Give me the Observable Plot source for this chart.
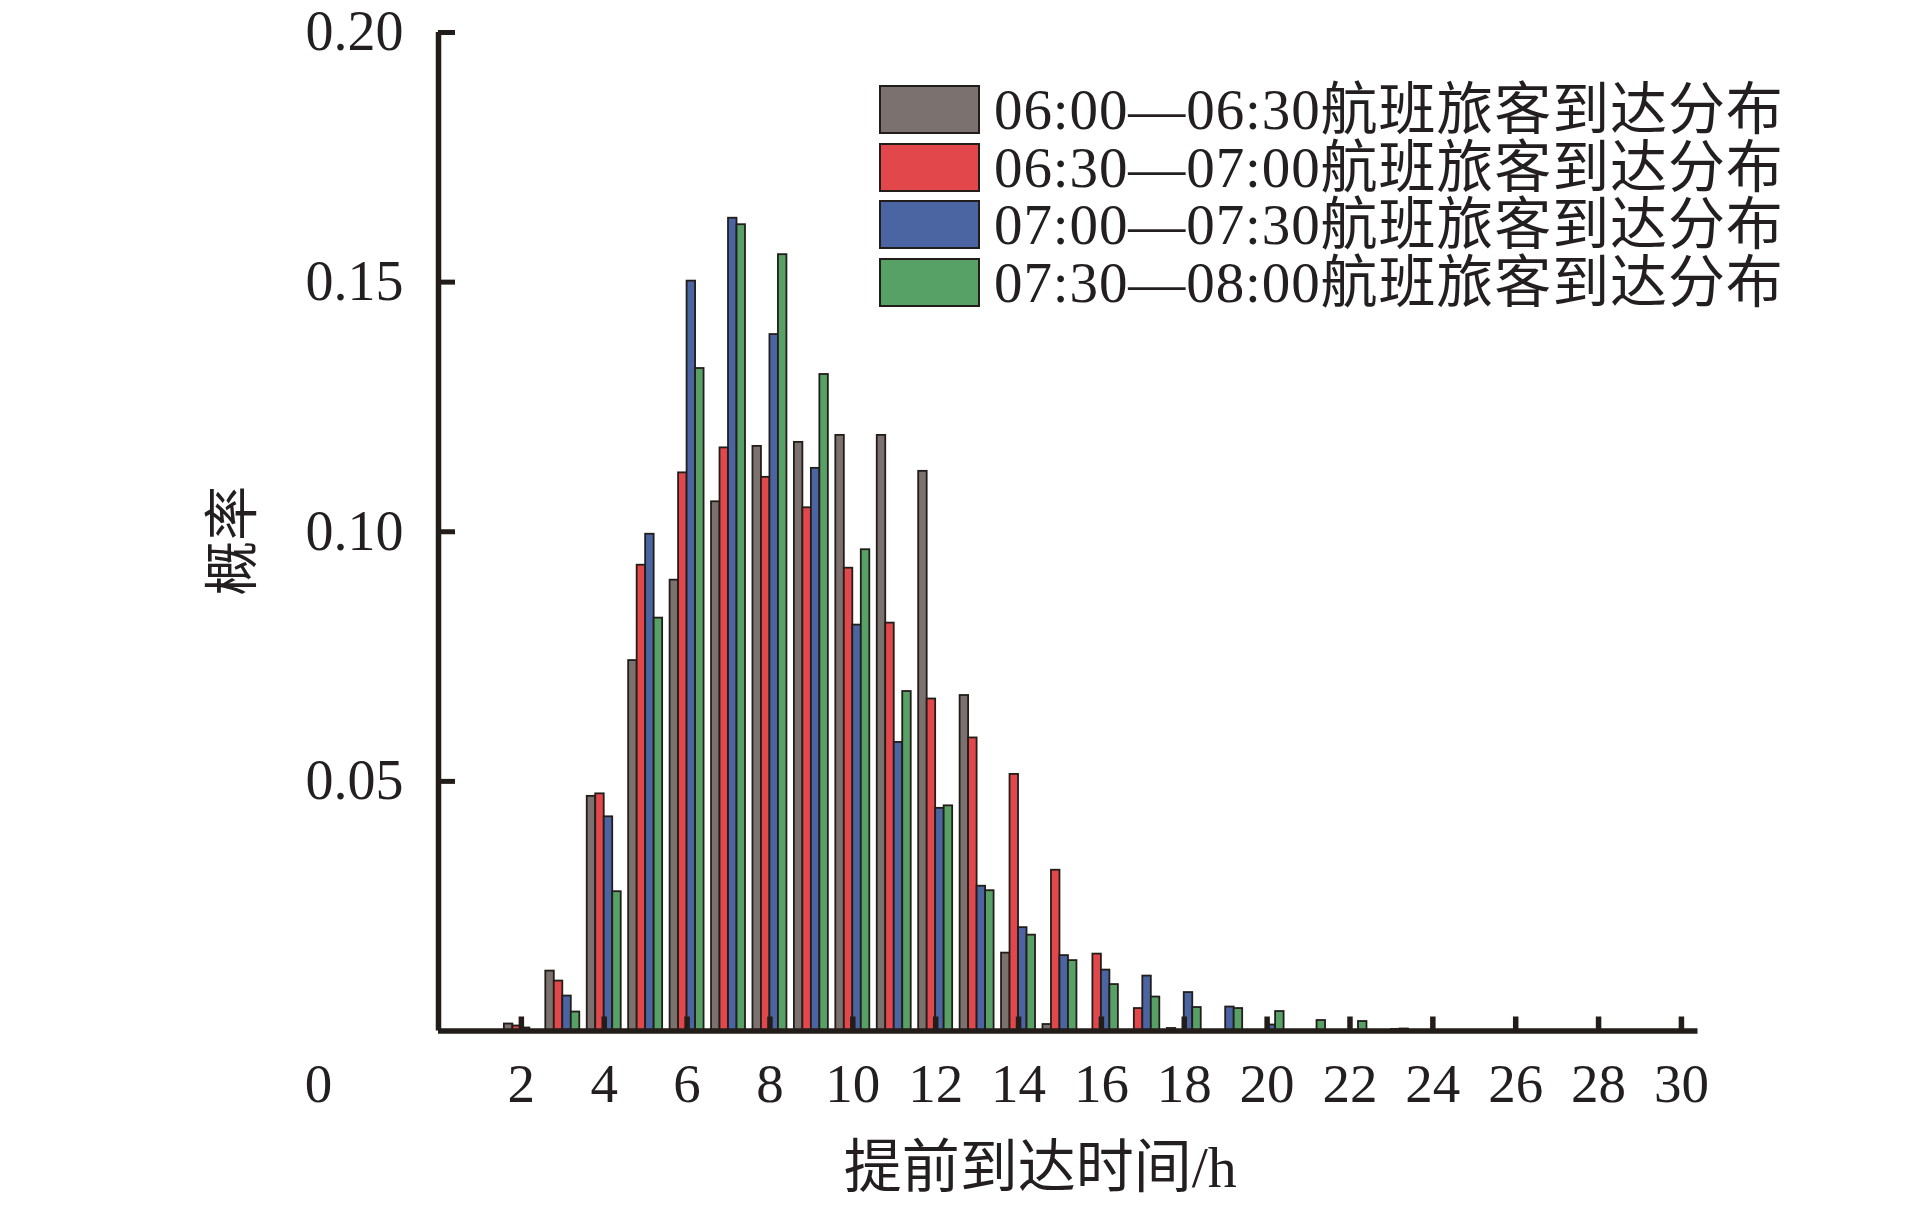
<!DOCTYPE html>
<html>
<head>
<meta charset="utf-8">
<script src="https://cdn.jsdelivr.net/npm/d3@7"></script>
<script src="https://cdn.jsdelivr.net/npm/@observablehq/plot@0.6"></script>
<style>
  html, body { margin: 0; padding: 0; background: #fff; }
  #wrap { position: relative; width: 1913px; height: 1205px; }
  #legend { position: absolute; left: 879px; top: 81px; font-family: "Liberation Serif", "Noto Sans CJK SC", serif; color: #231f20; }
  .row { display: flex; align-items: center; height: 57.5px; }
  .sw { width: 97px; height: 45px; border: 2px solid #231d1a; box-sizing: content-box; }
  .lab { margin-left: 14px; font-size: 57px; line-height: 1; letter-spacing: 0.9px; white-space: nowrap; }
</style>
</head>
<body>
<div id="wrap"><div id="legend"></div></div>
<script>
// ---- data ----
const hours = [2, 3, 4, 5, 6, 7, 8, 9, 10, 11, 12, 13, 14, 15, 16, 17, 18, 19, 20, 21, 22, 23];
const gray  = [0.0014, 0.0120, 0.0470, 0.0742, 0.0903, 0.1060, 0.1171, 0.1179, 0.1193, 0.1193, 0.1121, 0.0672, 0.0156, 0.0013, 0, 0, 0.0005, 0, 0, 0, 0, 0];
const red   = [0.0010, 0.0100, 0.0475, 0.0933, 0.1118, 0.1168, 0.1109, 0.1048, 0.0927, 0.0817, 0.0665, 0.0587, 0.0514, 0.0322, 0.0154, 0.0045, 0, 0, 0, 0, 0, 0];
const blue  = [0.0006, 0.0070, 0.0429, 0.0995, 0.1502, 0.1628, 0.1395, 0.1127, 0.0813, 0.0578, 0.0446, 0.0290, 0.0207, 0.0151, 0.0122, 0.0110, 0.0077, 0.0048, 0.0012, 0, 0, 0.0003];
const green = [0, 0.0038, 0.0279, 0.0827, 0.1327, 0.1615, 0.1555, 0.1315, 0.0964, 0.0680, 0.0451, 0.0281, 0.0192, 0.0141, 0.0093, 0.0068, 0.0047, 0.0045, 0.0039, 0.0021, 0.0019, 0.0004];
const seriesNames = ["06:00—06:30航班旅客到达分布", "06:30—07:00航班旅客到达分布", "07:00—07:30航班旅客到达分布", "07:30—08:00航班旅客到达分布"];
const seriesColors = ["#7b716f", "#e2484b", "#4b65a3", "#57a066"];
const xTicks = [2, 4, 6, 8, 10, 12, 14, 16, 18, 20, 22, 24, 26, 28, 30];
const yTicks = [0.05, 0.10, 0.15, 0.20];
const xTitle = "提前到达时间/h";
const yTitle = "概率";

// ---- table ----
const seriesValues = [gray, red, blue, green];
const rows = [];
seriesValues.forEach((vals, si) => {
  vals.forEach((v, i) => { if (v > 0) rows.push({h: hours[i], s: seriesNames[si], si, v}); });
});

const barW = 0.205;
const offs = [-1.5, -0.5, 0.5, 1.5].map(k => k * barW);
const ink = "#231d1a";
const W = 1913, H = 1205, mL = 438, mR = 215.5, mT = 32, mB = 174.5;
const frameH = H - mT - mB, frameW = W - mL - mR;

const chart = Plot.plot({
  width: W, height: H,
  marginLeft: mL, marginRight: mR, marginTop: mT, marginBottom: mB,
  x: {domain: [0, 30.4]},
  y: {domain: [0, 0.2]},
  color: {domain: seriesNames, range: seriesColors},
  style: {fontFamily: "'Liberation Serif', 'Noto Sans CJK SC', serif", background: "#fff", color: "#231f20", overflow: "visible"},
  marks: [
    Plot.rect(rows, {
      x1: d => d.h + offs[d.si] - barW / 2,
      x2: d => d.h + offs[d.si] + barW / 2,
      y1: 0, y2: "v", fill: "s", stroke: ink, strokeWidth: 1.8
    }),
    Plot.ruleY([0], {stroke: ink, strokeWidth: 5.5}),
    Plot.ruleX([0], {y1: 0, y2: 0.2, stroke: ink, strokeWidth: 5.5}),
    Plot.tickX(xTicks, {x: d => d, insetTop: frameH - 14, stroke: ink, strokeWidth: 5.5}),
    Plot.tickY(yTicks, {y: d => d, insetRight: frameW - 17, stroke: ink, strokeWidth: 5}),
    Plot.axisX({ticks: xTicks, tickSize: 0, tickPadding: 32, fontSize: 55, label: null}),
    Plot.axisY({ticks: yTicks, tickSize: 0, tickPadding: 35, fontSize: 56, tickFormat: d3.format(".2f"), label: null}),
    Plot.text([0], {x: d => d, y: d => d, text: d => String(d), dx: -120, dy: 53, fontSize: 55, lineAnchor: "middle"}),
    Plot.text([xTitle], {frameAnchor: "bottom", text: d => d, dx: -28, dy: 137, fontSize: 58, lineAnchor: "middle", textAnchor: "middle"}),
    Plot.text([yTitle], {frameAnchor: "left", text: d => d, rotate: -90, dx: -205, dy: 9, fontSize: 55, lineAnchor: "middle", textAnchor: "middle"})
  ]
});
document.getElementById("wrap").prepend(chart);

// ---- legend ----
const legend = document.getElementById("legend");
seriesNames.forEach((name, i) => {
  const row = document.createElement("div");
  row.className = "row";
  const sw = document.createElement("div");
  sw.className = "sw";
  sw.style.background = seriesColors[i];
  const lab = document.createElement("div");
  lab.className = "lab";
  lab.textContent = name;
  row.append(sw, lab);
  legend.append(row);
});
</script>
</body>
</html>
